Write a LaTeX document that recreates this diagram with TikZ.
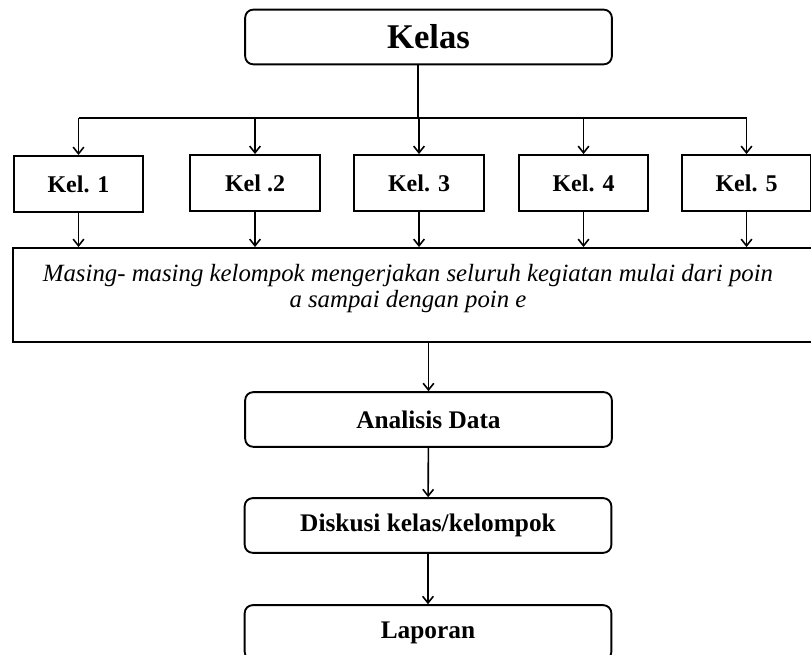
\documentclass[tikz,border=0pt]{standalone}
\usepackage{fontspec}
\setmainfont{Liberation Serif}
\usetikzlibrary{arrows.meta}

\begin{document}
\begin{tikzpicture}[x=0.75pt,y=-0.75pt,
    box/.style={draw,line width=1.4pt,rounded corners=6pt,minimum width=275pt,minimum height=41pt,
        font=\bfseries\fontsize{19}{22}\selectfont},
    kel/.style={draw,line width=1.4pt,minimum width=97pt,minimum height=42pt,
        font=\bfseries\fontsize{18}{21}\selectfont},
    arr/.style={line width=1.2pt,-{Straight Barb[length=5pt,width=8pt]}}]

    \useasboundingbox (0,0) rectangle (811,655);

    \node[box,font=\bfseries\fontsize{26}{30}\selectfont] (kelas) at (428.5,37) {Kelas};

    \node[kel] (k1) at (78.5,184) {Kel. 1};
    \node[kel] (k2) at (255,183) {Kel .2};
    \node[kel] (k3) at (419,183) {Kel. 3};
    \node[kel] (k4) at (583.5,183) {Kel. 4};
    \node[kel] (k5) at (746.5,183) {Kel. 5};

    \node[draw,line width=1.4pt,minimum width=604.5pt,minimum height=70.5pt] (tugas) at (416,295) {};
    \node[align=center,font=\itshape\fontsize{18.6}{19.5}\selectfont] (tugastext) at (408,289)
        {Masing- masing kelompok mengerjakan seluruh kegiatan mulai dari poin\\a sampai dengan poin e};

    \node[box] (analisis) at (428.5,419.5) {Analisis Data};
    \node[box] (diskusi) at (428,525.5) {Diskusi kelas/kelompok};
    \node[box] (laporan) at (428,632.5) {Laporan};

    \coordinate (bus) at (418,118);
    \draw[line width=1.2pt] (kelas.south -| bus) -- (bus);
    \draw[line width=1.2pt] (k1.north |- bus) -- (k5.north |- bus);
    \foreach \k in {k1,k2,k3,k4,k5}
        \draw[arr] (\k.north |- bus) -- (\k.north);
    \foreach \k in {k1,k2,k3,k4,k5}
        \draw[arr] (\k.south) -- (\k.south |- tugas.north);

    \draw[arr] (analisis.north |- tugas.south) -- (analisis.north);
    \draw[arr] (analisis) -- (diskusi);
    \draw[arr] (diskusi) -- (laporan);

\end{tikzpicture}
\end{document}
